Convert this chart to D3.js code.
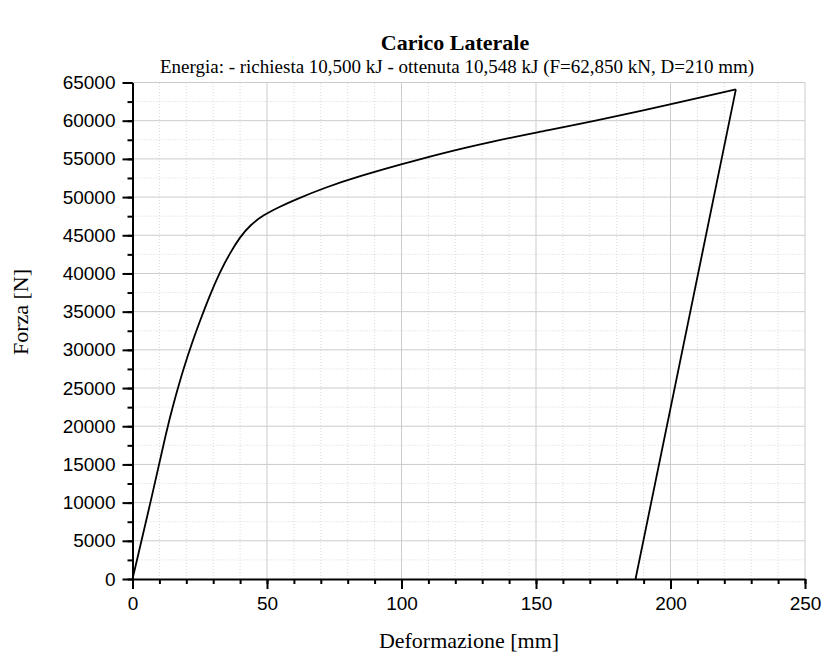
<!DOCTYPE html>
<html>
<head>
<meta charset="utf-8">
<script src="https://cdn.jsdelivr.net/npm/d3@7"></script>
<style>
  body { margin: 0; background: #fff; }
  svg { display: block; }
</style>
</head>
<body>
<div id="chart"></div>
<script>
// loading branch (Deformazione mm, Forza N)
const loadX = [0, 7.75, 12.7, 15.2, 18.9, 22.6, 25.1, 28.8, 32.5, 36.2, 40, 43.7, 48.6, 54.8, 60, 72, 84, 100, 115, 134, 150, 172, 200, 224.3];
const loadF = [0, 11600, 19500, 22900, 27500, 31400, 33800, 37200, 40200, 42650, 44800, 46300, 47650, 48750, 49600, 51300, 52700, 54300, 55750, 57300, 58450, 59950, 62150, 64100];
// unloading branch
const unloadX = [224.3, 187];
const unloadF = [64100, 0];

const xTicks = [0, 50, 100, 150, 200, 250];
const yTicks = [0, 5000, 10000, 15000, 20000, 25000, 30000, 35000, 40000, 45000, 50000, 55000, 60000, 65000];
const xMinor = d3.range(0, 251, 10);
const yMinor = d3.range(0, 65001, 2500);

const title = 'Carico Laterale';
const subtitle = 'Energia: - richiesta 10,500 kJ - ottenuta 10,548 kJ (F=62,850 kN, D=210 mm)';

const width = 825, height = 657;
const margin = { top: 82.5, right: 20, bottom: 78, left: 132.5 };

const svg = d3.select('#chart')
  .append('svg')
  .attr('width', width)
  .attr('height', height);

const x = d3.scaleLinear().domain([0, 250]).range([margin.left, width - margin.right]);
const y = d3.scaleLinear().domain([0, 65000]).range([height - margin.bottom, margin.top]);

// minor grid (dotted)
svg.append('g')
  .selectAll('line')
  .data(xMinor.filter((d) => d % 50 !== 0))
  .enter()
  .append('line')
  .attr('x1', (d) => x(d)).attr('x2', (d) => x(d))
  .attr('y1', y(0)).attr('y2', y(65000))
  .attr('stroke', '#d8d8d8')
  .attr('stroke-dasharray', '1,2');

svg.append('g')
  .selectAll('line')
  .data(yMinor.filter((d) => d % 5000 !== 0))
  .enter()
  .append('line')
  .attr('x1', x(0)).attr('x2', x(250))
  .attr('y1', (d) => y(d)).attr('y2', (d) => y(d))
  .attr('stroke', '#d8d8d8')
  .attr('stroke-dasharray', '1,2');

// major grid
svg.append('g')
  .selectAll('line')
  .data(xTicks.slice(1))
  .enter()
  .append('line')
  .attr('x1', (d) => x(d)).attr('x2', (d) => x(d))
  .attr('y1', y(0)).attr('y2', y(65000))
  .attr('stroke', '#cccccc');

svg.append('g')
  .selectAll('line')
  .data(yTicks.slice(1))
  .enter()
  .append('line')
  .attr('x1', x(0)).attr('x2', x(250))
  .attr('y1', (d) => y(d)).attr('y2', (d) => y(d))
  .attr('stroke', '#cccccc');

// minor ticks
svg.append('g')
  .attr('transform', `translate(0,${y(0)})`)
  .call(d3.axisBottom(x).tickValues(xMinor).tickSize(5).tickFormat(''))
  .call((g) => g.select('.domain').remove())
  .selectAll('line').attr('stroke-width', 2);

svg.append('g')
  .attr('transform', `translate(${x(0)},0)`)
  .call(d3.axisLeft(y).tickValues(yMinor).tickSize(5).tickFormat(''))
  .call((g) => g.select('.domain').remove())
  .selectAll('line').attr('stroke-width', 2);

// major axes
const xAxis = svg.append('g')
  .attr('transform', `translate(0,${y(0)})`)
  .call(d3.axisBottom(x).tickValues(xTicks).tickSize(10).tickSizeOuter(0).tickPadding(8).tickFormat(d3.format('d')));

const yAxis = svg.append('g')
  .attr('transform', `translate(${x(0)},0)`)
  .call(d3.axisLeft(y).tickValues(yTicks).tickSize(10).tickSizeOuter(0).tickPadding(7).tickFormat(d3.format('d')));

[xAxis, yAxis].forEach((g) => {
  g.select('.domain').attr('stroke-width', 2);
  g.selectAll('.tick line').attr('stroke-width', 2);
  g.selectAll('text')
    .attr('font-family', 'Liberation Sans, Arial, sans-serif')
    .attr('font-size', 19)
    .attr('fill', '#000');
});

// curve
svg.append('path')
  .datum(loadX.map((d, i) => [d, loadF[i]]))
  .attr('fill', 'none')
  .attr('stroke', '#000')
  .attr('stroke-width', 1.8)
  .attr('d', d3.line().x((d) => x(d[0])).y((d) => y(d[1])).curve(d3.curveBasis));

svg.append('path')
  .datum(unloadX.map((d, i) => [d, unloadF[i]]))
  .attr('fill', 'none')
  .attr('stroke', '#000')
  .attr('stroke-width', 1.8)
  .attr('d', d3.line().x((d) => x(d[0])).y((d) => y(d[1])));

// titles
svg.append('text')
  .attr('x', 455).attr('y', 50)
  .attr('text-anchor', 'middle')
  .attr('font-family', 'Liberation Serif, Times New Roman, serif')
  .attr('font-weight', 'bold')
  .attr('font-size', 22)
  .text(title);

svg.append('text')
  .attr('x', 457).attr('y', 73)
  .attr('text-anchor', 'middle')
  .attr('font-family', 'Liberation Serif, Times New Roman, serif')
  .attr('font-size', 19)
  .text(subtitle);

svg.append('text')
  .attr('x', 469).attr('y', 648)
  .attr('text-anchor', 'middle')
  .attr('font-family', 'Liberation Serif, Times New Roman, serif')
  .attr('font-size', 22)
  .text('Deformazione [mm]');

svg.append('text')
  .attr('transform', 'translate(28,312) rotate(-90)')
  .attr('text-anchor', 'middle')
  .attr('font-family', 'Liberation Serif, Times New Roman, serif')
  .attr('font-size', 22)
  .text('Forza [N]');
</script>
</body>
</html>
